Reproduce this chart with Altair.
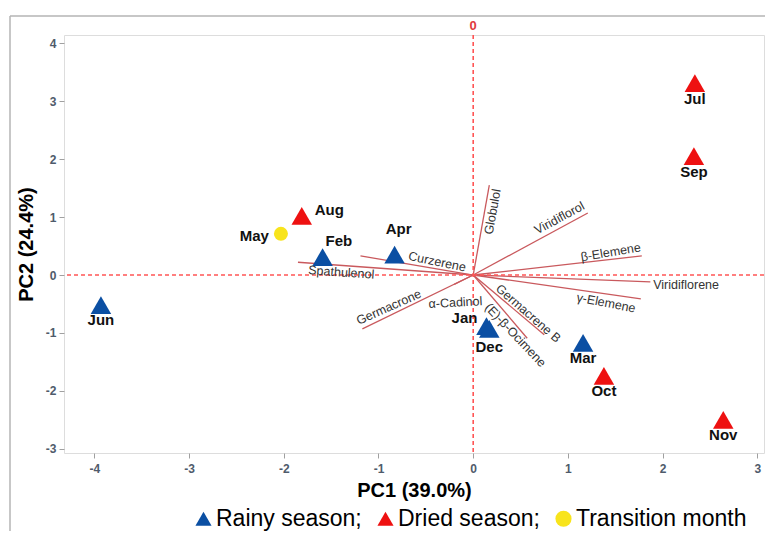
import math
import altair as alt
import pandas as pd

# ---------------- data ----------------
months = ["Jan", "Feb", "Mar", "Apr", "May", "Jun", "Jul", "Aug", "Sep", "Oct", "Nov", "Dec"]
pc1 = [0.14, -1.59, 1.16, -0.83, -2.03, -3.93, 2.34, -1.81, 2.33, 1.38, 2.64, 0.17]
pc2 = [-0.88, 0.31, -1.17, 0.35, 0.71, -0.52, 3.31, 1.02, 2.05, -1.74, -2.50, -0.93]
season = ["Rainy season", "Rainy season", "Rainy season", "Rainy season", "Transition month",
          "Rainy season", "Dried season", "Dried season", "Dried season", "Dried season",
          "Dried season", "Rainy season"]

compounds = ["Globulol", "Viridiflorol", "β-Elemene", "Viridiflorene", "γ-Elemene", "Germacrene B",
             "(E)-β-Ocimene", "α-Cadinol", "Germacrone", "Curzerene", "Spathulenol"]
load1 = [0.17, 1.21, 1.78, 1.87, 1.77, 0.75, 0.57, -0.20, -1.17, -1.19, -1.85]
load2 = [1.55, 1.07, 0.33, -0.12, -0.41, -1.03, -1.09, -0.16, -0.93, 0.33, 0.22]

season_order = ["Rainy season", "Dried season", "Transition month"]
x_ticks = [-4, -3, -2, -1, 0, 1, 2, 3]
y_ticks = [-3, -2, -1, 0, 1, 2, 3, 4]

# ---------------- layout / style ----------------
W, H = 700, 418
XMIN, XMAX = -4.32, 3.07
YMIN, YMAX = -3.07, 4.14
SX = W / (XMAX - XMIN)
SY = H / (YMAX - YMIN)
FONT = "Liberation Sans"
marker_size = {"Rainy season": 420, "Dried season": 420, "Transition month": 196}

# label placement for loading vectors: (t along, perpendicular d, along offset a, fixed angle, extra rot, align)
lab_style = {
    "Globulol": (0.72, 8, 0, None, 0, "center"),
    "Viridiflorol": (0.79, -9, 0, None, 0, "center"),
    "β-Elemene": (0.82, -7, 0, None, -3, "center"),
    "Viridiflorene": (1.0, 3, 3, 0, 0, "left"),
    "γ-Elemene": (0.80, 9, 0, None, 3, "center"),
    "Germacrene B": (0.72, -6, 0, None, 1, "center"),
    "(E)-β-Ocimene": (0.88, 7, 0, None, -3, "center"),
    "α-Cadinol": (1.0, 17, -7, 357, 0, "center"),
    "Germacrone": (0.73, -8, 0, None, 2, "center"),
    "Curzerene": (0.33, -7, 0, None, 2, "center"),
    "Spathulenol": (0.75, 7, 0, None, 0, "center"),
}

rows = []
for name, ex, ey in zip(compounds, load1, load2):
    t, d, a, fixed, extra, align = lab_style[name]
    px, py = ex * SX, -ey * SY
    L = math.hypot(px, py)
    ux, uy = px / L, py / L
    if ux < 0:
        ux, uy = -ux, -uy
    ang = math.degrees(math.atan2(uy, ux)) + extra
    if fixed is not None:
        ang = fixed
    nx, ny = -uy, ux
    spx = t * px + d * nx + a * ux
    spy = t * py + d * ny + a * uy
    rows.append(dict(name=name, lx=spx / SX, ly=-spy / SY, ang=ang % 360, align=align))
lab_df = pd.DataFrame(rows)

pts = pd.DataFrame({"month": months, "pc1": pc1, "pc2": pc2, "season": season})
pts["sz"] = pts["season"].map(marker_size)
load_df = pd.DataFrame({"name": compounds, "ex": load1, "ey": load2,
                        "ox": [0.0] * len(compounds), "oy": [0.0] * len(compounds)})
zero_df = pd.DataFrame({"v": [0.0]})

xscale = alt.Scale(domain=[XMIN, XMAX], nice=False, zero=False)
yscale = alt.Scale(domain=[YMIN, YMAX], nice=False, zero=False)

axis_common = dict(grid=False, domain=False, tickSize=5, tickColor="#a0a0a0", tickWidth=1,
                   labelFont=FONT, labelFontSize=12, labelFontWeight="bold", labelColor="#4f5b6b",
                   labelExpr="replace(datum.label, '\u2212', '-')",
                   titleFont=FONT, titleFontSize=20, titleFontWeight="bold", titleColor="#000000")
xaxis = alt.Axis(values=x_ticks, title="PC1 (39.0%)", labelPadding=5, titlePadding=6, **axis_common)
yaxis = alt.Axis(values=y_ticks, title="PC2 (24.4%)", labelPadding=3, titlePadding=9, **axis_common)


def X(f):
    return alt.X(f, type="quantitative", scale=xscale, axis=xaxis)


def Y(f):
    return alt.Y(f, type="quantitative", scale=yscale, axis=yaxis)


# outer decorative frame (left and top edges)
frame_top = alt.Chart(zero_df).mark_rule(color="#b4b4b4", strokeWidth=1.5).encode(
    x=alt.value(-54), x2=alt.value(W + 1), y=alt.value(-19))
frame_left = alt.Chart(zero_df).mark_rule(color="#b4b4b4", strokeWidth=1.5).encode(
    x=alt.value(-54), y=alt.value(-19), y2=alt.value(H + 90))

# loading vectors
vec = alt.Chart(load_df).mark_rule(color="#c9595d", strokeWidth=1.3).encode(
    x=X("ox"), y=Y("oy"), x2="ex", y2="ey")

# zero dashed lines
vline = alt.Chart(zero_df).mark_rule(color="#ff5555", strokeDash=[4, 3], strokeWidth=1.6).encode(x=X("v"))
hline = alt.Chart(zero_df).mark_rule(color="#ff5555", strokeDash=[4, 3], strokeWidth=1.6).encode(y=Y("v"))

zero_top = alt.Chart(zero_df).mark_text(color="#e0393e", fontSize=13, fontWeight="bold", font=FONT,
                                        baseline="middle").encode(x=X("v"), y=alt.value(-9), text=alt.value("0"))

# loading labels
lab_layers = []
for al in ["center", "left"]:
    lab_layers.append(
        alt.Chart(lab_df[lab_df["align"] == al]).mark_text(
            font=FONT, fontSize=12.5, color="#333333", align=al, baseline="middle").encode(
            x=X("lx"), y=Y("ly"), text="name:N", angle=alt.Angle("ang:Q", scale=None)))

legend = alt.Legend(orient="none", legendX=128, legendY=472, direction="horizontal", title=None,
                    labelFont=FONT, labelFontSize=23, labelColor="#000000", symbolSize=260,
                    labelOffset=1, columnPadding=12, symbolOpacity=1, symbolStrokeWidth=0,
                    labelLimit=400,
                    labelExpr="datum.label == 'Transition month' ? datum.label : datum.label + ';'")

points = alt.Chart(pts).mark_point(filled=True, opacity=1, strokeWidth=0).encode(
    x=X("pc1"), y=Y("pc2"),
    color=alt.Color("season:N", scale=alt.Scale(domain=season_order,
                                                range=["#0b4fa3", "#ee1111", "#f8e41c"]), legend=legend),
    shape=alt.Shape("season:N", scale=alt.Scale(domain=season_order,
                                                range=["triangle-up", "triangle-up", "circle"]), legend=legend),
    size=alt.Size("sz:Q", scale=None, legend=None),
)

# month labels
placement = {
    "Jul": ("center", 0, 16), "Sep": ("center", 0, 16), "Mar": ("center", 0, 15),
    "Oct": ("center", 0, 15), "Nov": ("center", 0, 15), "Jun": ("center", 0, 15),
    "Dec": ("center", 0, 18), "Jan": ("right", -9, -8), "Aug": ("left", 13, -6),
    "May": ("right", -12, 2), "Feb": ("left", 3, -16), "Apr": ("center", 4, -26),
}
month_layers = []
for m, (al, dx, dy) in placement.items():
    month_layers.append(
        alt.Chart(pts[pts["month"] == m]).mark_text(
            font=FONT, fontSize=15, fontWeight="bold", color="#111111",
            align=al, baseline="middle", dx=dx, dy=dy).encode(
            x=X("pc1"), y=Y("pc2"), text="month:N"))

chart = alt.layer(
    frame_top, frame_left, vec, vline, hline, zero_top, *lab_layers, points, *month_layers
).properties(
    width=W, height=H,
    autosize=alt.AutoSizeParams(type="none"),
    padding={"left": 56, "top": 27, "right": 1, "bottom": 78},
).configure_view(stroke="#aaaaaa", strokeWidth=1.5).configure(font=FONT, background="white")

chart.save("out.html", embed_options={"renderer": "svg", "actions": False})
